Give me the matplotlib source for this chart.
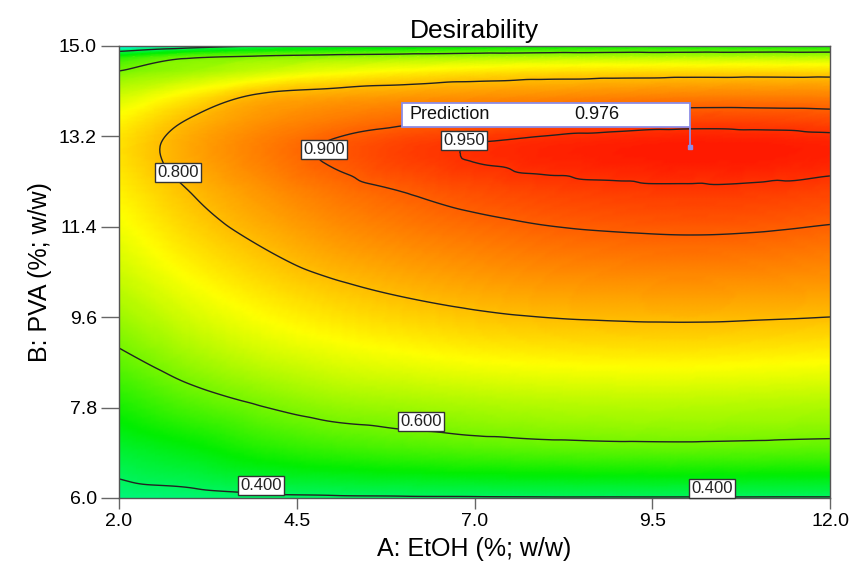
"""
Desirability contour (EtOH x PVA) - re-drawn from the reference figure
"""
import numpy as np
import matplotlib
matplotlib.use("Agg")
import matplotlib.pyplot as plt
import matplotlib.tri as mtri
from matplotlib.colors import LinearSegmentedColormap
from matplotlib.patches import Rectangle

plt.rcParams["font.family"] = ["Liberation Sans", "DejaVu Sans"]

# ── data: desirability at grid nodes ──
etoh = [2, 3, 4, 5, 6, 7, 8, 9, 10, 11, 12]                          # A: EtOH (%; w/w)
pva = [6, 7, 8, 9, 10, 11, 12, 13, 13.5, 14, 14.5, 14.8, 15]          # B: PVA (%; w/w)
# one row per PVA level, one column per EtOH level
desir = [
    [0.370, 0.378, 0.388, 0.392, 0.394, 0.395, 0.396, 0.396, 0.396, 0.396, 0.396],  # 6
    [0.445, 0.480, 0.520, 0.545, 0.560, 0.572, 0.580, 0.584, 0.585, 0.582, 0.578],  # 7
    [0.525, 0.578, 0.615, 0.643, 0.655, 0.665, 0.672, 0.675, 0.675, 0.672, 0.668],  # 8
    [0.601, 0.655, 0.695, 0.720, 0.737, 0.751, 0.759, 0.763, 0.764, 0.760, 0.755],  # 9
    [0.660, 0.712, 0.752, 0.780, 0.800, 0.815, 0.825, 0.830, 0.832, 0.830, 0.826],  # 10
    [0.705, 0.760, 0.800, 0.832, 0.852, 0.867, 0.879, 0.885, 0.888, 0.885, 0.878],  # 11
    [0.740, 0.797, 0.840, 0.873, 0.896, 0.914, 0.926, 0.933, 0.936, 0.934, 0.926],  # 12
    [0.762, 0.825, 0.868, 0.906, 0.934, 0.952, 0.964, 0.971, 0.976, 0.975, 0.968],  # 13
    [0.740, 0.805, 0.847, 0.872, 0.891, 0.904, 0.917, 0.927, 0.933, 0.931, 0.926],  # 13.5
    [0.688, 0.750, 0.810, 0.828, 0.838, 0.846, 0.853, 0.860, 0.865, 0.866, 0.865],  # 14
    [0.600, 0.640, 0.680, 0.714, 0.736, 0.752, 0.761, 0.765, 0.768, 0.769, 0.769],  # 14.5
    [0.500, 0.575, 0.600, 0.616, 0.627, 0.638, 0.646, 0.650, 0.651, 0.652, 0.652],  # 14.8
    [0.250, 0.350, 0.400, 0.430, 0.450, 0.470, 0.480, 0.490, 0.495, 0.500, 0.500],  # 15
]

levels = [0.400, 0.600, 0.800, 0.900, 0.950]
x_ticks = [2.0, 4.5, 7.0, 9.5, 12.0]
y_ticks = [6.0, 7.8, 9.6, 11.4, 13.2, 15.0]

pred_x, pred_y, pred_value = 10.03, 12.99, 0.976

# where the contour value boxes sit
label_spots = [
    (0.400, 4.00, 6.24),
    (0.400, 10.34, 6.18),
    (0.600, 6.25, 7.53),
    (0.800, 2.83, 12.47),
    (0.900, 4.88, 12.93),
    (0.950, 6.85, 13.11),
]

# ── surface: triangulate the grid, let matplotlib smooth it ──
X, Y = np.meshgrid(etoh, pva)
Z = np.array(desir)
nx, ny = len(etoh), len(pva)
tris = []
for j in range(ny - 1):
    for i in range(nx - 1):
        a = j * nx + i
        tris.append([a, a + 1, a + nx + 1])
        tris.append([a, a + nx + 1, a + nx])
tri = mtri.Triangulation(X.ravel(), Y.ravel(), np.array(tris))
interp = mtri.CubicTriInterpolator(tri, Z.ravel(), kind="geom")
refiner = mtri.UniformTriRefiner(tri)
tri_f, z_f = refiner.refine_field(Z.ravel(), triinterpolator=interp, subdiv=4)

cmap = LinearSegmentedColormap.from_list(
    "de", [(0.0, "#0000ff"), (0.25, "#00ffff"), (0.5, "#00ee00"),
           (0.75, "#ffff00"), (1.0, "#ff1a00")])

# ── figure ──
fig = plt.figure(figsize=(8.5, 5.77), dpi=100)
ax = fig.add_axes([0.140, 0.137, 0.8365, 0.7835])

ax.tripcolor(tri_f, z_f, cmap=cmap, vmin=0.0, vmax=pred_value, shading="gouraud")
ax.tricontour(tri_f, z_f, levels=levels, colors="#222222", linewidths=1.0)

for lev, lx, ly in label_spots:
    ax.text(lx, ly, f"{lev:.3f}", ha="center", va="center", fontsize=12, color="#222222",
            bbox=dict(boxstyle="square,pad=0.12", facecolor="white", edgecolor="#333333", linewidth=1.0),
            zorder=6)

# prediction flag
box_l, box_r, box_b, box_t = 5.98, pred_x, 13.39, 13.865
ax.add_patch(Rectangle((box_l, box_b), box_r - box_l, box_t - box_b,
                       facecolor="white", edgecolor="#8c8ce6", linewidth=1.3, zorder=7))
ax.plot([pred_x, pred_x], [pred_y, box_b], color="#8c8ce6", linewidth=1.3, zorder=7)
ax.plot([pred_x], [pred_y], marker="s", markersize=2.5, color="#8c8ce6", zorder=7)
ax.text(box_l + 0.1, (box_b + box_t) / 2, "Prediction", ha="left", va="center",
        fontsize=13, color="#111111", zorder=8)
ax.text(8.72, (box_b + box_t) / 2, f"{pred_value:.3f}", ha="center", va="center",
        fontsize=13, color="#111111", zorder=8)

# axes
ax.set_xlim(2, 12)
ax.set_ylim(6, 15)
ax.set_xticks(x_ticks)
ax.set_yticks(y_ticks)
ax.set_xticklabels([f"{v:.1f}" for v in x_ticks])
ax.set_yticklabels([f"{v:.1f}" for v in y_ticks])
ax.tick_params(axis="x", length=8, width=1, color="#666666", labelsize=14, pad=3)
ax.tick_params(axis="y", length=13, width=1, color="#666666", labelsize=14, pad=3)
for s in ax.spines.values():
    s.set_color("#555555")
    s.set_linewidth(1.0)

ax.set_xlabel("A: EtOH (%; w/w)", fontsize=18, labelpad=5)
ax.set_ylabel("B: PVA (%; w/w)", fontsize=18, labelpad=5)
ax.set_title("Desirability", fontsize=19, pad=6)

fig.savefig("out.png", dpi=100, facecolor="white")
plt.close()
